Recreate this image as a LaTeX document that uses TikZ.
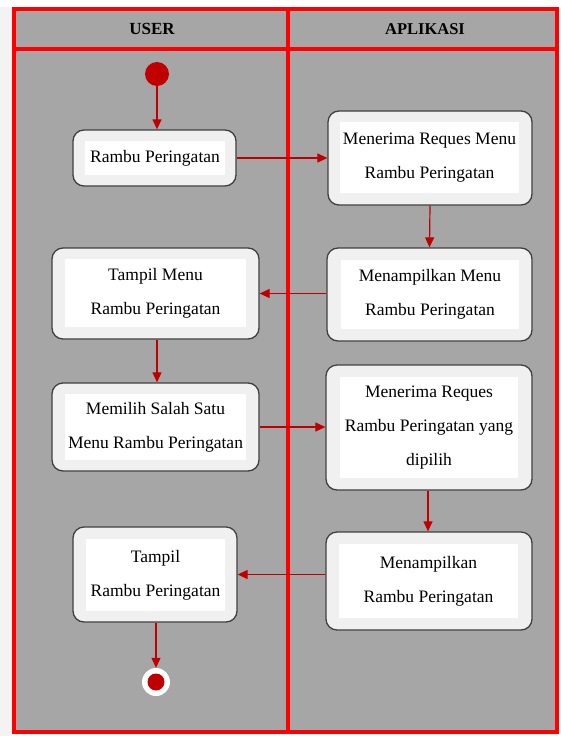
\documentclass[tikz,border=0pt]{standalone}
\usepackage{fontspec}
\setmainfont{Liberation Serif}
\usetikzlibrary{arrows.meta,calc}

\definecolor{lanefill}{HTML}{A6A6A6}
\definecolor{laneline}{HTML}{FF0000}
\definecolor{flowred}{HTML}{C00000}
\definecolor{boxfill}{HTML}{F0F0F0}
\definecolor{boxline}{HTML}{404040}
\definecolor{edgestrip}{HTML}{F3F3F3}

\tikzset{
  lane/.style={draw=laneline, line width=3.8pt},
  actbox/.style={draw=boxline, fill=boxfill, line width=1.3pt,
    rounded corners=11pt, inner sep=0pt},
  acttext/.style={fill=white, inner sep=0pt, align=center,
    font=\fontsize{17.5}{34}\selectfont},
  lanehead/.style={font=\fontsize{17}{20}\selectfont\bfseries},
  flow/.style={draw=flowred, line width=1.2pt,
    -{Triangle[length=10pt,width=9pt]}, color=flowred},
}

\begin{document}
\begin{tikzpicture}[x=1pt,y=-1pt]
  \useasboundingbox (0,0) rectangle (560,736);
  \fill[white] (0,0) rectangle (560,736);
  \fill[edgestrip] (0,7) rectangle (12,736);

  % swimlane frame
  \fill[lanefill] (14,9) rectangle (557,732);
  \draw[lane] (14,9) rectangle (557,732);
  \draw[lane] (14,49) -- (557,49);
  \draw[lane] (288,9) -- (288,732);
  \node[lanehead] (hUser) at (152,29) {USER};
  \node[lanehead, font=\fontsize{16.5}{20}\selectfont\bfseries] (hApp) at (425,29) {APLIKASI};

  % start and end
  \node[circle, fill=flowred, minimum size=24pt, inner sep=0pt] (start) at (157,74) {};
  \node[circle, fill=white, minimum size=28pt, inner sep=0pt] (stop) at (156,682) {};
  \node[circle, fill=flowred, minimum size=17pt, inner sep=0pt] (stopdot) at (156,682) {};

  % activities
  \node[actbox, minimum width=163pt, minimum height=56pt] (n1) at (154.5,158) {};
  \node[acttext, minimum width=140pt, minimum height=34pt] (n1t) at (155,158) {Rambu Peringatan};

  \node[actbox, minimum width=204pt, minimum height=94pt] (n2) at (430,158) {};
  \node[acttext, minimum width=179pt, minimum height=71pt] (n2t) at (429.5,157.5) {Menerima Reques Menu\\Rambu Peringatan};

  \node[actbox, minimum width=205pt, minimum height=93pt] (n3) at (429.5,294.5) {};
  \node[acttext, minimum width=178pt, minimum height=69pt] (n3t) at (430,294.5) {Menampilkan Menu\\Rambu Peringatan};

  \node[actbox, minimum width=207pt, minimum height=91pt] (n4) at (155.5,293.5) {};
  \node[acttext, minimum width=181pt, minimum height=68pt] (n4t) at (155.5,293) {Tampil Menu\\Rambu Peringatan};

  \node[actbox, minimum width=207pt, minimum height=88pt] (n5) at (155.5,427) {};
  \node[acttext, minimum width=181pt, minimum height=66pt] (n5t) at (155.5,427) {Memilih Salah Satu\\Menu Rambu Peringatan};

  \node[actbox, minimum width=206pt, minimum height=125pt] (n6) at (429,427.5) {};
  \node[acttext, minimum width=178pt, minimum height=101pt] (n6t) at (429,427.5) {Menerima Reques\\Rambu Peringatan yang\\dipilih};

  \node[actbox, minimum width=206pt, minimum height=98pt] (n7) at (429,581) {};
  \node[acttext, minimum width=179pt, minimum height=74pt] (n7t) at (428.5,581) {Menampilkan\\Rambu Peringatan};

  \node[actbox, minimum width=164pt, minimum height=95pt] (n8) at (155,574.5) {};
  \node[acttext, minimum width=139pt, minimum height=72pt] (n8t) at (155.5,575) {Tampil\\Rambu Peringatan};

  % control flow
  \draw[flow] (start) -- (start |- n1.north);
  \draw[flow] (n1.east) -- (n2.west);
  \draw[flow] ($(n2.south)+(0,0)$) -- (n3.north);
  \draw[flow] (n3.west |- n4.east) -- (n4.east);
  \draw[flow] (n4.south -| start) -- (n5.north -| start);
  \draw[flow] (n5.east) -- (n5.east -| n6.west);
  \draw[flow] (n6.south -| 428,0) -- (n7.north -| 428,0);
  \draw[flow] (n7.west |- n8.east) -- (n8.east);
  \draw[flow] (n8.south -| stop) -- (stop.north);
\end{tikzpicture}
\end{document}
